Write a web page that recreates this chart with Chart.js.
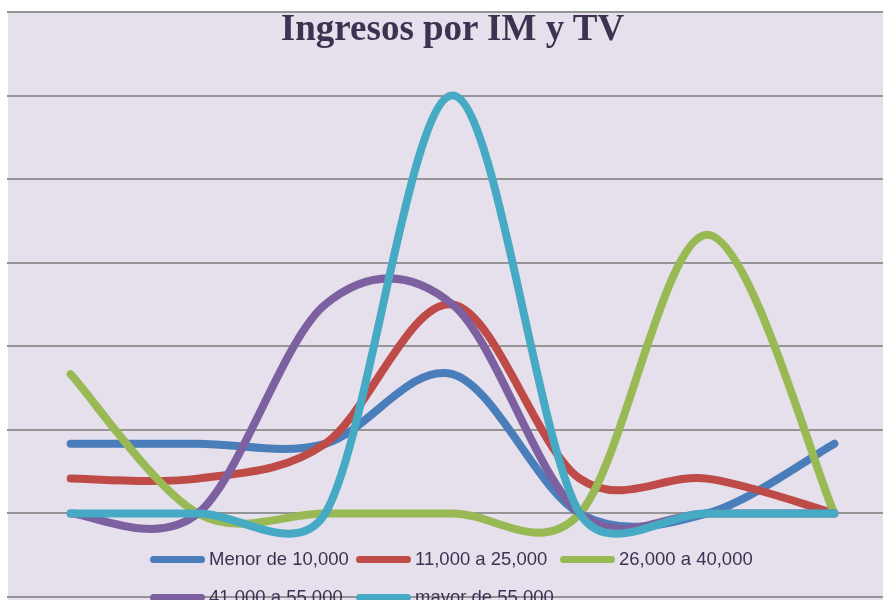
<!DOCTYPE html>
<html>
<head>
<meta charset="utf-8">
<script src="https://cdn.jsdelivr.net/npm/chart.js@4/dist/chart.umd.min.js"></script>
<style>
  html, body { margin: 0; padding: 0; overflow: hidden; background: #ffffff; width: 883px; height: 600px; }
  #wrap { position: relative; width: 898px; height: 600px; }
  #c { position: absolute; left: 0; top: 0; }
  #title { position: absolute; left: 7px; width: 891px; top: 8px; text-align: center;
           font-family: "Liberation Serif", "Times New Roman", serif; font-weight: bold;
           font-size: 37px; color: #3F3151; line-height: 40px; white-space: nowrap; }
  #legend { position: absolute; left: 150px; top: 548px; display: grid;
            grid-template-columns: 206px 204px 220px; grid-auto-rows: 38px; }
  .item { display: flex; align-items: center; height: 22px; white-space: nowrap;
          font-family: "Liberation Sans", Arial, sans-serif; font-size: 18.5px; color: #3F3151; }
  .sw { width: 55px; height: 7px; border-radius: 4px; margin-right: 4px; flex: none; }
</style>
</head>
<body>
<div id="wrap">
  <canvas id="c" width="898" height="600"></canvas>
  <div id="title"></div>
  <div id="legend"></div>
</div>
<script>
// ---- data ----
const chartTitle = "Ingresos por IM y TV";
const categories = ["1", "2", "3", "4", "5", "6", "7"];
const seriesNames = ["Menor de 10,000", "11,000 a 25,000", "26,000 a 40,000", "41,000 a 55,000", "mayor de 55,000"];
const menor10000   = [16.67, 16.67, 16.67, 33.33, 0, 0, 16.67];
const de11a25      = [8.33, 8.33, 16.67, 50, 8.33, 8.33, 0];
const de26a40      = [33.33, 0, 0, 0, 0, 66.67, 0];
const de41a55      = [0, 0, 50, 50, 0, 0, 0];
const mayor55000   = [0, 0, 0, 100, 0, 0, 0];
const yTicks = { min: -20, max: 120, step: 20 };

// ---- styles ----
const seriesColors = ["#4A7EBB", "#BE4B48", "#98B954", "#7D60A0", "#46AAC5"];
const seriesValues = [menor10000, de11a25, de26a40, de41a55, mayor55000];

document.getElementById("title").textContent = chartTitle;
const legendEl = document.getElementById("legend");
seriesNames.forEach((n, i) => {
  const it = document.createElement("div");
  it.className = "item";
  const sw = document.createElement("span");
  sw.className = "sw";
  sw.style.background = seriesColors[i];
  const tx = document.createElement("span");
  tx.textContent = n;
  it.appendChild(sw); it.appendChild(tx);
  legendEl.appendChild(it);
});

const bgPlugin = {
  id: "plotBg",
  beforeDraw(chart) {
    const { ctx, chartArea } = chart;
    ctx.save();
    ctx.fillStyle = "#E5E0EC";
    ctx.fillRect(chartArea.left + 1, chartArea.top, chart.width - chartArea.left, chart.height - chartArea.top);
    ctx.restore();
  }
};

// Office-style smoothing: Catmull-Rom tangents (1/6 of neighbour chord),
// shortened on the side whose segment is much shorter than the other one.
const smoothPlugin = {
  id: "officeSmooth",
  beforeDatasetDraw(chart, args) {
    const meta = args.meta;
    const line = meta.dataset;
    if (!line) return;
    if (typeof line.updateControlPoints === "function") {
      line.updateControlPoints(chart.chartArea, meta.indexAxis);
    }
    const pts = meta.data;
    for (let i = 0; i < pts.length; i++) {
      const cur = pts[i], prev = pts[i - 1] || cur, next = pts[i + 1] || cur;
      const tx = (next.x - prev.x) / 6, ty = (next.y - prev.y) / 6;
      const d01 = Math.hypot(cur.x - prev.x, cur.y - prev.y);
      const d12 = Math.hypot(next.x - cur.x, next.y - cur.y);
      const fa = d12 > 0 ? Math.min(1, 2.25 * d01 / d12) : 1;
      const fb = d01 > 0 ? Math.min(1, 2.25 * d12 / d01) : 1;
      cur.cp1x = cur.x - tx * fa; cur.cp1y = cur.y - ty * fa;
      cur.cp2x = cur.x + tx * fb; cur.cp2y = cur.y + ty * fb;
    }
    line._path = undefined;
  }
};

new Chart(document.getElementById("c"), {
  type: "line",
  data: {
    labels: categories,
    datasets: seriesNames.map((n, i) => ({
      label: n,
      data: seriesValues[i],
      borderColor: seriesColors[i],
      backgroundColor: seriesColors[i],
      borderWidth: 8,
      borderCapStyle: "round",
      borderJoinStyle: "round",
      pointRadius: 0,
      pointHoverRadius: 0,
      tension: 0.4,
      fill: false,
      order: seriesNames.length - 1 - i
    }))
  },
  options: {
    responsive: false,
    animation: false,
    devicePixelRatio: 1,
    layout: { padding: { left: 7, right: 0, top: 12, bottom: 3 } },
    plugins: {
      legend: { display: false },
      title: { display: false },
      tooltip: { enabled: false }
    },
    scales: {
      x: { display: false, offset: true },
      y: {
        min: yTicks.min, max: yTicks.max,
        ticks: { display: false, stepSize: yTicks.step },
        border: { display: false },
        grid: { color: "#959595", lineWidth: 2, drawTicks: false },
        afterFit(s) { s.width = 0; }
      }
    }
  },
  plugins: [bgPlugin, smoothPlugin]
});
</script>
</body>
</html>
